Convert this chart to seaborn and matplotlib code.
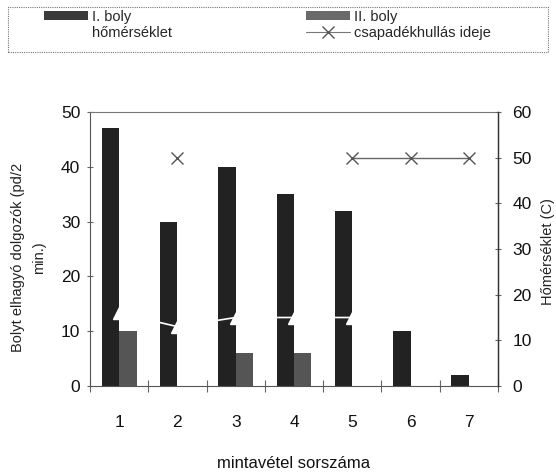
import numpy as np
import pandas as pd
import matplotlib
matplotlib.use("Agg")
import matplotlib.pyplot as plt
import seaborn as sns
from matplotlib.patches import Patch, Rectangle
from matplotlib.lines import Line2D

# ---- data ----
samples = ["1", "2", "3", "4", "5", "6", "7"]
boly1 = [47, 30, 40, 35, 32, 10, 2]
boly2 = [10, 0, 6, 6, 0, 0, 0]
temperature = [16, 13, 15, 15, 15, np.nan, np.nan]
precip = [np.nan, 50, np.nan, np.nan, 50, 50, 50]
series_names = ["I. boly", "II. boly"]
temp_name = "hőmérséklet"
precip_name = "csapadékhullás ideje"
left_ticks = [0, 10, 20, 30, 40, 50]
right_ticks = [0, 10, 20, 30, 40, 50, 60]

df = pd.DataFrame({
    "minta": samples * 2,
    "ertek": boly1 + boly2,
    "boly": [series_names[0]] * len(samples) + [series_names[1]] * len(samples),
})

sns.set_theme(style="white")
plt.rcParams["font.family"] = ["Liberation Sans", "DejaVu Sans"]

c1 = "#222222"
c2 = "#555555"

fig = plt.figure(figsize=(5.56, 4.74), dpi=100)
ax = fig.add_axes([90 / 556, 1 - 386 / 474, 408 / 556, 274 / 474])

sns.barplot(data=df, x="minta", y="ertek", hue="boly", order=samples,
            hue_order=series_names, palette=[c1, c2], width=0.6,
            linewidth=0, saturation=1, ax=ax, legend=False)

ax.set_xlim(-0.5, 6.5)
ax.set_ylim(0, 50)
ax.set_yticks(left_ticks)
ax.set_yticklabels([str(t) for t in left_ticks])
ax.set_xticks(np.arange(-0.5, 7, 1))
ax.set_xticklabels([""] * 8)
ax.set_xticks(range(len(samples)), minor=True)
ax.set_xticklabels(samples, minor=True)
ax.tick_params(axis="x", which="major", direction="inout", length=8,
               width=0.8, color="#666666", bottom=True)
ax.tick_params(axis="x", which="minor", length=0, pad=21, labelsize=12.5,
               colors="#111111")
ax.tick_params(axis="y", direction="inout", length=5, width=0.8,
               color="#666666", left=True, pad=4.5, labelsize=12.5,
               labelcolor="#111111")
ax.set_xlabel("mintavétel sorszáma", fontsize=12, color="#111111")
ax.xaxis.set_label_coords(0.5, (386 - 456) / 274)
ax.set_ylabel("Bolyt elhagyó dolgozók (pd/2\nmin.)", fontsize=10.5,
              color="#222222", linespacing=1.6)
ax.yaxis.set_label_coords((46 - 90) / 408, 0.47)

for s in ax.spines.values():
    s.set_color("#555555")
    s.set_linewidth(0.8)
ax.spines["top"].set_linestyle((0, (1, 1)))
ax.spines["top"].set_color("#777777")

ax2 = ax.twinx()
ax2.set_ylim(0, 60)
ax2.set_yticks(right_ticks)
ax2.set_yticklabels([str(t) for t in right_ticks])
ax2.tick_params(axis="y", direction="inout", length=5, width=0.8,
                color="#666666", right=True, pad=8, labelsize=12.5,
                labelcolor="#111111")
x = np.arange(len(samples))
ax2.plot(x, temperature, color="white", lw=1.2, marker="^", markersize=8,
         markerfacecolor="white", markeredgecolor="white")
ax2.plot(x, precip, color="#666666", lw=1.0, marker="x", markersize=9,
         markeredgewidth=1.0, markeredgecolor="#555555")
ax2.set_ylabel("Hőmérséklet (C)", fontsize=10.5, color="#222222",
               rotation=90, va="center", ha="center", rotation_mode="anchor")
ax2.yaxis.set_label_coords((548 - 90) / 408, 0.49)
for s in ax2.spines.values():
    s.set_visible(False)
ax2.spines["right"].set_visible(True)
ax2.spines["right"].set_color("#333333")
ax2.spines["right"].set_linewidth(1.0)

# legend frame
fig.patches.append(Rectangle((8 / 556, 1 - 52 / 474), 540 / 556, 45 / 474,
                             transform=fig.transFigure, fill=False,
                             edgecolor="#777777", lw=0.8,
                             linestyle=(0, (1, 1))))
handles = [
    Patch(facecolor="#3a3a3a", edgecolor="none"),
    Line2D([0], [0], color="white", marker="^", markerfacecolor="white",
           markeredgecolor="white"),
    Patch(facecolor="#6a6a6a", edgecolor="none"),
    Line2D([0], [0], color="#777777", lw=0.8, marker="x", markersize=9,
           markeredgecolor="#555555"),
]
labels = [series_names[0], temp_name, series_names[1], precip_name]
fig.legend(handles, labels, loc="upper left",
           bbox_to_anchor=(44 / 556, 1 - 10 / 474), ncol=2, frameon=False,
           fontsize=10.5, handlelength=3.0, handleheight=0.6,
           handletextpad=0.3, labelspacing=0.12, columnspacing=9.2,
           borderpad=0, borderaxespad=0)

fig.savefig("out.png", dpi=100)
